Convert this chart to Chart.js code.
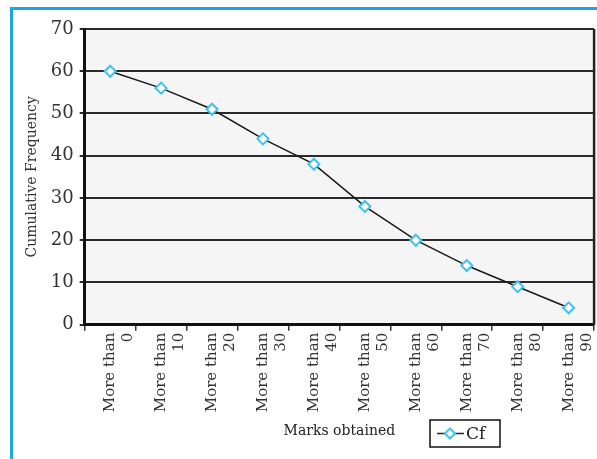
<!DOCTYPE html>
<html lang="en">
<head>
    <meta charset="UTF-8">
    <title>Cumulative Frequency</title>
    <script src="https://cdnjs.cloudflare.com/ajax/libs/Chart.js/4.4.1/chart.umd.min.js"></script>
    <style>
        html, body { margin: 0; padding: 0; background: #ffffff; overflow: hidden; }
        #wrap { position: absolute; left: 0; top: 0; width: 597px; height: 459px; overflow: hidden; }
        #frame { position: absolute; left: 10px; top: 7px; width: 600px; height: 470px;
                 border-left: 3px solid #1ba6e6; border-top: 3px solid #1ba6e6; pointer-events: none; }
    </style>
</head>
<body>
    <div id="wrap">
        <!-- canvas is a little wider than the window so the plot reaches the right edge -->
        <canvas id="myChart" width="607" height="459"></canvas>
        <div id="frame"></div>
    </div>

    <script>
        // data
        var categories = [["More than", "0"], ["More than", "10"], ["More than", "20"], ["More than", "30"], ["More than", "40"],
                          ["More than", "50"], ["More than", "60"], ["More than", "70"], ["More than", "80"], ["More than", "90"]];
        var cfValues = [60, 56, 51, 44, 38, 28, 20, 14, 9, 4];
        var seriesName = "Cf";

        var serif = "'DejaVu Serif', 'Liberation Serif', serif";

        // plot background, right border and the boxed legend
        var framePlugin = {
            id: "framePlugin",
            beforeDraw: function (chart) {
                var a = chart.chartArea, ctx = chart.ctx;
                ctx.save();
                ctx.fillStyle = "#f5f5f5";
                ctx.fillRect(a.left, a.top, a.right - a.left, a.bottom - a.top);
                ctx.restore();
            },
            afterDraw: function (chart) {
                var a = chart.chartArea, ctx = chart.ctx;
                ctx.save();
                ctx.strokeStyle = "#222";
                ctx.lineWidth = 2.5;
                ctx.beginPath();
                ctx.moveTo(a.right, a.top);
                ctx.lineTo(a.right, a.bottom);
                ctx.stroke();

                // legend box
                var bx = 430, by = 420, bw = 70, bh = 27;
                ctx.lineWidth = 1.5;
                ctx.strokeStyle = "#111";
                ctx.strokeRect(bx, by, bw, bh);
                var ly = by + bh / 2;
                ctx.strokeStyle = "#222";
                ctx.lineWidth = 1.5;
                ctx.beginPath();
                ctx.moveTo(bx + 7, ly);
                ctx.lineTo(bx + 34, ly);
                ctx.stroke();
                var cx = bx + 20, r = 5;
                ctx.fillStyle = "#ffffff";
                ctx.strokeStyle = "#3cc3ee";
                ctx.lineWidth = 2;
                ctx.beginPath();
                ctx.moveTo(cx, ly - r);
                ctx.lineTo(cx + r, ly);
                ctx.lineTo(cx, ly + r);
                ctx.lineTo(cx - r, ly);
                ctx.closePath();
                ctx.fill();
                ctx.stroke();
                ctx.fillStyle = "#222";
                ctx.font = "17px " + serif;
                ctx.textBaseline = "middle";
                ctx.fillText(seriesName, bx + 36, ly + 1);
                ctx.restore();
            }
        };

        var myChart = new Chart("myChart", {
            type: "line",
            data: {
                labels: categories,
                datasets: [{
                    label: seriesName,
                    data: cfValues,
                    borderColor: "#1a1a1a",
                    borderWidth: 1.5,
                    pointStyle: "rectRot",
                    pointRadius: 5.5,
                    pointBorderWidth: 2,
                    pointBorderColor: "#3cc3ee",
                    pointBackgroundColor: "#ffffff",
                    tension: 0
                }]
            },
            options: {
                responsive: false,
                animation: false,
                layout: { padding: { left: 24, right: 4, top: 29, bottom: 11 } },
                plugins: {
                    legend: { display: false },
                    tooltip: { enabled: false }
                },
                scales: {
                    x: {
                        offset: true,
                        grid: { display: true, drawOnChartArea: false, offset: true, tickLength: 6, color: "#333", lineWidth: 1.5 },
                        border: { color: "#111", width: 3 },
                        ticks: {
                            maxRotation: 90, minRotation: 90,
                            color: "#333",
                            font: { family: serif, size: 15 },
                            padding: 2
                        },
                        title: {
                            display: true,
                            text: "Marks obtained",
                            color: "#222",
                            font: { family: serif, size: 14 },
                            padding: { top: 9, bottom: 8 }
                        }
                    },
                    y: {
                        min: 0, max: 70,
                        ticks: {
                            stepSize: 10,
                            color: "#333",
                            font: { family: serif, size: 18 },
                            padding: 6
                        },
                        grid: { color: "#2a2a2a", lineWidth: 2, tickLength: 5 },
                        border: { color: "#111", width: 3 },
                        title: {
                            display: true,
                            text: "Cumulative Frequency",
                            color: "#333",
                            font: { family: serif, size: 14 },
                            padding: { top: 0, bottom: 4 }
                        }
                    }
                }
            },
            plugins: [framePlugin]
        });
    </script>
</body>
</html>
